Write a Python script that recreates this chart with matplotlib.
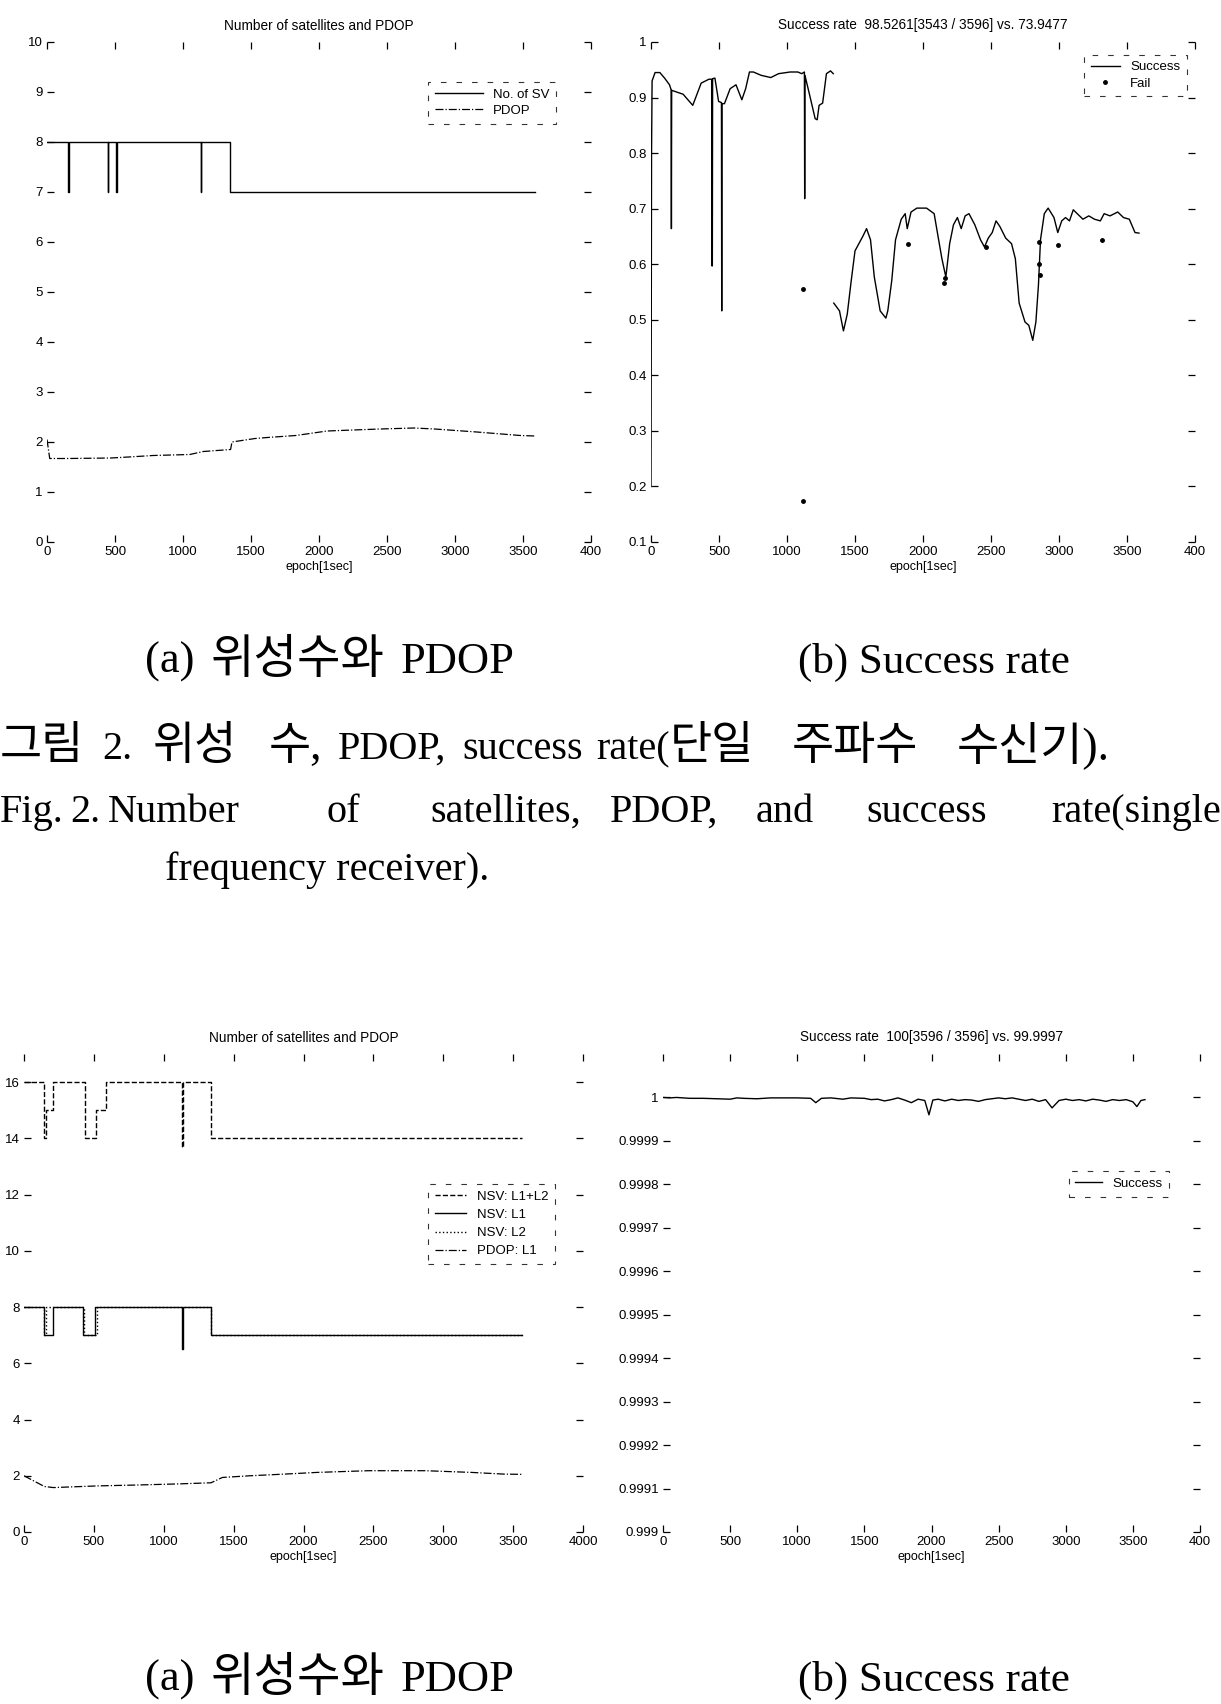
import matplotlib
matplotlib.use("Agg")
import matplotlib.pyplot as plt

W, H = 1221, 1704  # figure size in pixels at dpi=100

# ---------------- single frequency receiver ----------------
# number of visible satellites (step changes)
sv_epoch = [0, 156, 159, 448, 451, 511, 514, 1129, 1132, 1348, 3590]
sv_count = [8, 7, 8, 7, 8, 7, 8, 7, 8, 7, 7]

pdop_epoch = [0, 20, 150, 470, 600, 780, 1050, 1150, 1350, 1360, 1530, 1620,
              1830, 2060, 2250, 2450, 2700, 2850, 3160, 3480, 3590]
pdop_value = [2.05, 1.67, 1.67, 1.68, 1.70, 1.73, 1.75, 1.81, 1.85, 2.00, 2.07, 2.09,
              2.13, 2.22, 2.24, 2.26, 2.28, 2.26, 2.20, 2.13, 2.12]

# ambiguity success rate per epoch (nan = no solution)
sr_epoch = [0, 4, 8, 30, 65, 100, 136, 148, 150, 152, 236, 307, 369, 426, 446, 448, 451,
            453, 470, 497, 518, 520, 522, 540, 582, 625, 668, 696, 724, 753, 810, 881,
            938, 1023, 1080, 1108, 1128, 1130, 1132, 1165, 1207, 1222, 1236, 1262, 1290,
            1320, 1340, 1342, 1344, 1386, 1415, 1443, 1472, 1500, 1557, 1585, 1614, 1642,
            1685, 1727, 1741, 1770, 1798, 1840, 1869, 1884, 1912, 1955, 2026, 2082, 2110,
            2139, 2168, 2196, 2224, 2253, 2281, 2310, 2338, 2381, 2423, 2452, 2480, 2509,
            2537, 2565, 2608, 2651, 2679, 2707, 2750, 2778, 2807, 2830, 2849, 2864, 2892,
            2920, 2963, 2991, 3020, 3048, 3077, 3105, 3134, 3176, 3219, 3261, 3304, 3332,
            3375, 3432, 3474, 3517, 3559, 3588]
sr_value = [0.20, 0.80, 0.93, 0.945, 0.945, 0.935, 0.923, 0.914, 0.664, 0.913, 0.906,
            0.886, 0.926, 0.933, 0.933, 0.597, 0.597, 0.934, 0.935, 0.893, 0.891, 0.516,
            0.889, 0.889, 0.916, 0.923, 0.896, 0.916, 0.946, 0.946, 0.940, 0.936, 0.943,
            0.946, 0.946, 0.943, 0.946, 0.718, 0.940, 0.906, 0.862, 0.860, 0.886, 0.890,
            0.943, 0.948, 0.943, float("nan"), 0.530, 0.516, 0.480, 0.510, 0.570, 0.624,
            0.650, 0.664, 0.644, 0.577, 0.516, 0.503, 0.516, 0.570, 0.644, 0.681, 0.691,
            0.664, 0.694, 0.701, 0.701, 0.691, 0.651, 0.610, 0.577, 0.637, 0.671, 0.684,
            0.664, 0.687, 0.691, 0.671, 0.644, 0.631, 0.647, 0.657, 0.678, 0.668, 0.647,
            0.637, 0.610, 0.530, 0.496, 0.490, 0.463, 0.496, 0.563, 0.644, 0.691, 0.701,
            0.684, 0.657, 0.678, 0.684, 0.678, 0.698, 0.691, 0.681, 0.687, 0.681, 0.678,
            0.691, 0.687, 0.694, 0.684, 0.681, 0.657, 0.656]

fail_epoch = [1116, 1116, 1890, 2153, 2160, 2466, 2850, 2855, 2860, 2991, 3318]
fail_value = [0.556, 0.174, 0.637, 0.567, 0.575, 0.631, 0.600, 0.640, 0.580, 0.634, 0.644]

# ---------------- dual frequency receiver ----------------
l12_epoch = [0, 145, 160, 210, 440, 516, 590, 1133, 1140, 1338, 3560]
l12_count = [16, 14, 15, 16, 14, 15, 16, 13.7, 16, 14, 14]

l1_epoch = [0, 145, 205, 420, 506, 1133, 1140, 1338, 3560]
l1_count = [8, 7, 8, 7, 8, 6.5, 8, 7, 7]

l2_epoch = [0, 145, 160, 430, 520, 1338, 3560]
l2_count = [8, 7, 8, 7, 8, 7, 7]

pdop2_epoch = [0, 145, 210, 530, 800, 1100, 1338, 1420, 1617, 1868, 2100, 2467, 2871,
               3200, 3429, 3560]
pdop2_value = [2.00, 1.62, 1.58, 1.64, 1.67, 1.71, 1.75, 1.94, 2.00, 2.06, 2.12, 2.18,
               2.18, 2.12, 2.06, 2.05]

sr2_epoch = [0, 50, 100, 150, 200, 300, 400, 500, 550, 600, 700, 800, 900, 1000, 1100,
             1138, 1180, 1250, 1340, 1400, 1500, 1550, 1600, 1650, 1700, 1750, 1800, 1850,
             1900, 1950, 1981, 2010, 2050, 2100, 2150, 2200, 2250, 2300, 2350, 2400, 2450,
             2500, 2550, 2600, 2650, 2700, 2750, 2800, 2850, 2898, 2950, 3000, 3050, 3100,
             3150, 3200, 3250, 3300, 3350, 3400, 3450, 3500, 3530, 3560, 3590]
sr2_value = [1.0, 0.999999, 1.0, 0.999999, 0.999998, 0.999998, 0.999997, 0.999996,
             0.999999, 0.999998, 0.999997, 0.999999, 0.999999, 0.999999, 0.999998,
             0.999988, 0.999998, 0.999999, 0.999996, 0.999999, 0.999998, 0.999995,
             0.999996, 0.999992, 0.999995, 0.999999, 0.999994, 0.999988, 0.999996,
             0.999993, 0.999960, 0.999994, 0.999996, 0.999992, 0.999996, 0.999993,
             0.999995, 0.999994, 0.999991, 0.999995, 0.999997, 0.999999, 0.999997,
             0.999999, 0.999996, 0.999993, 0.999996, 0.999991, 0.999995, 0.999976,
             0.999993, 0.999996, 0.999993, 0.999995, 0.999992, 0.999996, 0.999994,
             0.999991, 0.999995, 0.999993, 0.999995, 0.999990, 0.999979, 0.999993,
             0.999995]

x_ticks = [0, 500, 1000, 1500, 2000, 2500, 3000, 3500, 4000]
x_labels_cut = ["0", "500", "1000", "1500", "2000", "2500", "3000", "3500", "400"]
x_labels_full = ["0", "500", "1000", "1500", "2000", "2500", "3000", "3500", "4000"]

plt.rcParams["font.family"] = ["Liberation Sans", "DejaVu Sans"]
CAPTION_FONT = ["Liberation Serif", "Noto Sans CJK KR"]
LAT, KOR = 29, 33        # caption body sizes (latin / hangul)
SUB_LAT, SUB_KOR = 32, 34


def add_axes_px(fig, x0, x1, y0, y1):
    # pixel box (left, right, top, bottom) -> figure fraction
    return fig.add_axes([x0 / W, 1 - y1 / H, (x1 - x0) / W, (y1 - y0) / H])


def style_axes(ax, xlabels, xlabel=True):
    for s in ax.spines.values():
        s.set_visible(False)
    ax.tick_params(direction="in", top=True, right=True, length=5, width=0.9,
                   labelsize=9.5, pad=3, colors="black")
    ax.set_xlim(0, 4000)
    ax.set_xticks(x_ticks)
    ax.set_xticklabels(xlabels)
    if xlabel:
        ax.set_xlabel("epoch[1sec]", fontsize=9, labelpad=2)


def add_legend(ax, anchor, hl, spacing=0.3):
    leg = ax.legend(loc="upper right", bbox_to_anchor=anchor, borderaxespad=0,
                    fontsize=9.5, handlelength=hl, fancybox=False, borderpad=0.5,
                    labelspacing=spacing)
    fr = leg.get_frame()
    fr.set_edgecolor("black")
    fr.set_linewidth(0.8)
    fr.set_linestyle((0, (5, 9)))
    fr.set_boxstyle("square", pad=0)
    return leg


fig = plt.figure(figsize=(W / 100, H / 100), dpi=100)

# (a) satellites and PDOP, single frequency
ax1 = add_axes_px(fig, 47, 591, 42, 542)
ax1.plot(sv_epoch, sv_count, color="black", lw=1.0, drawstyle="steps-post", label="No. of SV")
ax1.plot(pdop_epoch, pdop_value, color="black", lw=0.9, ls="-.", label="PDOP")
ax1.set_ylim(0, 10)
ax1.set_yticks(range(0, 11))
style_axes(ax1, x_labels_cut)
ax1.set_title("Number of satellites and PDOP", fontsize=9.8, pad=9)
add_legend(ax1, (0.936, 0.92), 3.6)

# (b) success rate, single frequency
ax2 = add_axes_px(fig, 651, 1195, 42, 542)
ax2.plot(sr_epoch, sr_value, color="black", lw=1.0, label="Success")
ax2.plot(fail_epoch, fail_value, ls="none", marker=".", ms=5, color="black", label="Fail")
ax2.set_ylim(0.1, 1)
ax2.set_yticks([0.1, 0.2, 0.3, 0.4, 0.5, 0.6, 0.7, 0.8, 0.9, 1.0])
ax2.set_yticklabels(["0.1", "0.2", "0.3", "0.4", "0.5", "0.6", "0.7", "0.8", "0.9", "1"])
style_axes(ax2, x_labels_cut)
ax2.set_title("Success rate  98.5261[3543 / 3596] vs. 73.9477", fontsize=9.8, pad=9)
add_legend(ax2, (0.985, 0.975), 2.2)

# (a) satellites and PDOP, dual frequency
ax3 = add_axes_px(fig, 24, 583, 1054, 1532)
ax3.plot(l12_epoch, l12_count, color="black", lw=1.0, ls="--", drawstyle="steps-post",
         label="NSV: L1+L2")
ax3.plot(l1_epoch, l1_count, color="black", lw=1.0, drawstyle="steps-post", label="NSV: L1")
ax3.plot(l2_epoch, l2_count, color="black", lw=1.0, ls=":", drawstyle="steps-post",
         label="NSV: L2")
ax3.plot(pdop2_epoch, pdop2_value, color="black", lw=0.9, ls="-.", label="PDOP: L1")
ax3.set_ylim(0, 17)
ax3.set_yticks(range(0, 17, 2))
style_axes(ax3, x_labels_full)
ax3.set_title("Number of satellites and PDOP", fontsize=9.8, pad=9)
add_legend(ax3, (0.95, 0.728), 2.4, spacing=0.45)

# (b) success rate, dual frequency
ax4 = add_axes_px(fig, 663, 1200, 1054, 1532)
ax4.plot(sr2_epoch, sr2_value, color="black", lw=1.0, label="Success")
ax4.set_ylim(0.999, 1.0001)
y4 = [0.999 + 0.0001 * i for i in range(11)]
ax4.set_yticks(y4)
ax4.set_yticklabels(["0.999", "0.9991", "0.9992", "0.9993", "0.9994", "0.9995",
                     "0.9996", "0.9997", "0.9998", "0.9999", "1"])
style_axes(ax4, x_labels_cut)
ax4.set_title("Success rate  100[3596 / 3596] vs. 99.9997", fontsize=9.8, pad=9)
add_legend(ax4, (0.942, 0.755), 2.0)

renderer = fig.canvas.get_renderer()


def text_run(x, y, parts):
    # lay out (text, size, gap_after) pieces left to right on one baseline
    for s, size, gap in parts:
        t = fig.text(x / W, 1 - y / H, s, ha="left", va="baseline", fontsize=size,
                     family=CAPTION_FONT)
        x += t.get_window_extent(renderer=renderer).width + gap


def caption(x, y, s, ha="left", size=LAT):
    fig.text(x / W, 1 - y / H, s, ha=ha, va="baseline", fontsize=size, family=CAPTION_FONT)


# sub-captions under each row
for yb in (673, 1691):
    text_run(145, yb, [("(a)", SUB_LAT, 16), ("위성수와", SUB_KOR, 16), ("PDOP", SUB_LAT, 0)])
    caption(798, yb, "(b) Success rate", size=31)

# figure caption, korean line
text_run(0, 759, [("그림", KOR, 18), ("2.", LAT, 20), ("위성", KOR, 32), ("수,", KOR, 16),
                  ("PDOP,", LAT, 16), ("success", LAT, 13), ("rate(", LAT, 0),
                  ("단일", KOR, 38), ("주파수", KOR, 38), ("수신기).", KOR, 0)])

# english line, justified to the full width
fig_words = ["Fig.", "2.", "Number", "of", "satellites,", "PDOP,", "and", "success"]
fig_word_x = [0, 70, 108, 326, 430, 610, 756, 866]
for wx, wd in zip(fig_word_x, fig_words):
    caption(wx, 822, wd)
caption(1221, 822, "rate(single", ha="right")
caption(165, 880, "frequency receiver).")

fig.savefig("out.png", dpi=100, facecolor="white")
